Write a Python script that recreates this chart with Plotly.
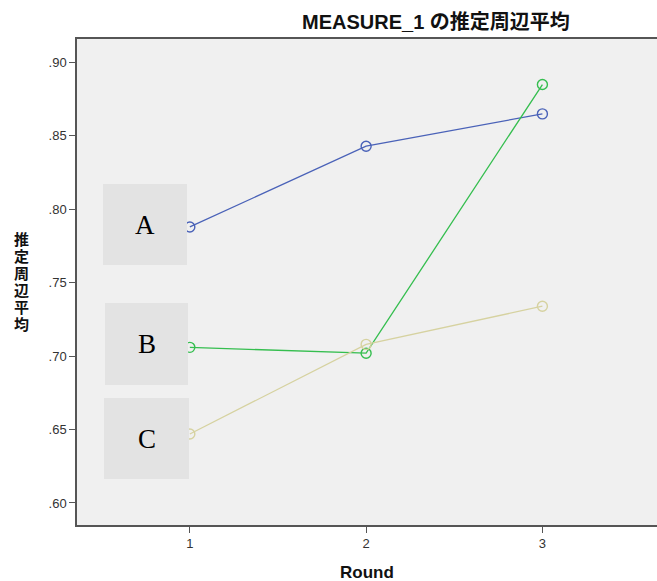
import plotly.graph_objects as go

rounds = [1, 2, 3]
series_names = ["A", "B", "C"]
values_a = [0.788, 0.843, 0.865]
values_b = [0.706, 0.702, 0.885]
values_c = [0.647, 0.708, 0.734]
colors = ["#4A62B8", "#35BE4F", "#D6D2A0"]
y_ticks = [0.60, 0.65, 0.70, 0.75, 0.80, 0.85, 0.90]
y_tick_labels = [".60", ".65", ".70", ".75", ".80", ".85", ".90"]
y_title_chars = ["推", "定", "周", "辺", "平", "均"]

W, H = 657, 581
L, R, T, B = 77, 0, 39, 56

fig = go.Figure()
for name, vals, col in zip(series_names, [values_a, values_b, values_c], colors):
    fig.add_trace(go.Scatter(
        x=rounds, y=vals, mode="lines+markers", name=name,
        line=dict(color=col, width=1.3),
        marker=dict(symbol="circle-open", size=10, color=col, line=dict(width=1.4, color=col)),
        showlegend=False,
    ))

font = "Liberation Sans, Arial, Noto Sans CJK JP, sans-serif"

fig.update_layout(
    width=W, height=H,
    margin=dict(l=L, r=R, t=T, b=B),
    paper_bgcolor="white",
    plot_bgcolor="#F0F0F0",
    font=dict(family=font, color="#333"),
    xaxis=dict(
        range=[0.36, 3.65], tickvals=rounds, ticktext=[str(r) for r in rounds],
        showgrid=False, zeroline=False, showline=True, mirror=True,
        linecolor="#555", linewidth=1.5, ticks="outside", ticklen=6,
        tickcolor="#555", tickfont=dict(size=13, color="#333"),
    ),
    yaxis=dict(
        range=[0.585, 0.916], tickvals=y_ticks, ticktext=y_tick_labels,
        showgrid=False, zeroline=False, showline=True, mirror=False,
        linecolor="#555", linewidth=1.5, ticks="outside", ticklen=6,
        tickcolor="#555", tickfont=dict(size=13, color="#333"),
    ),
)

pw, ph = W - L - R, H - T - B

def px(x):
    return (x - L) / pw

def py(y):
    return 1 - (y - T) / ph

ann = []
ann.append(dict(text="<b>MEASURE_1 の推定周辺平均</b>", xref="paper", yref="paper",
                x=px(436), y=py(22), xanchor="center", yanchor="middle", showarrow=False,
                font=dict(size=20, color="#111", family=font)))
for i, ch in enumerate(y_title_chars):
    ann.append(dict(text="<b>" + ch + "</b>", xref="paper", yref="paper",
                    x=px(21), y=py(239 + 17 * i), xanchor="center", yanchor="middle",
                    showarrow=False, font=dict(size=15, color="#111", family=font)))
ann.append(dict(text="<b>Round</b>", xref="paper", yref="paper",
                x=px(367), y=py(572), xanchor="center", yanchor="middle", showarrow=False,
                font=dict(size=17, color="#111", family=font)))
fig.update_layout(annotations=ann)

boxes = [(103, 187, 184, 265), (105, 188, 303, 385), (104, 189, 398, 479)]
for (x0, x1, y0, y1), name in zip(boxes, series_names):
    fig.add_shape(type="rect", xref="paper", yref="paper",
                  x0=px(x0), x1=px(x1), y0=py(y1), y1=py(y0),
                  fillcolor="#E3E3E3", line=dict(width=0), layer="above")
    fig.add_annotation(text=name, xref="paper", yref="paper",
                       x=px((x0 + x1) / 2), y=py((y0 + y1) / 2),
                       xanchor="center", yanchor="middle", showarrow=False,
                       font=dict(size=27, color="#000", family="Liberation Serif, Times New Roman, serif"))

fig.write_html("out.html", config={"displayModeBar": False},
               post_script="document.body.style.margin='0';")
